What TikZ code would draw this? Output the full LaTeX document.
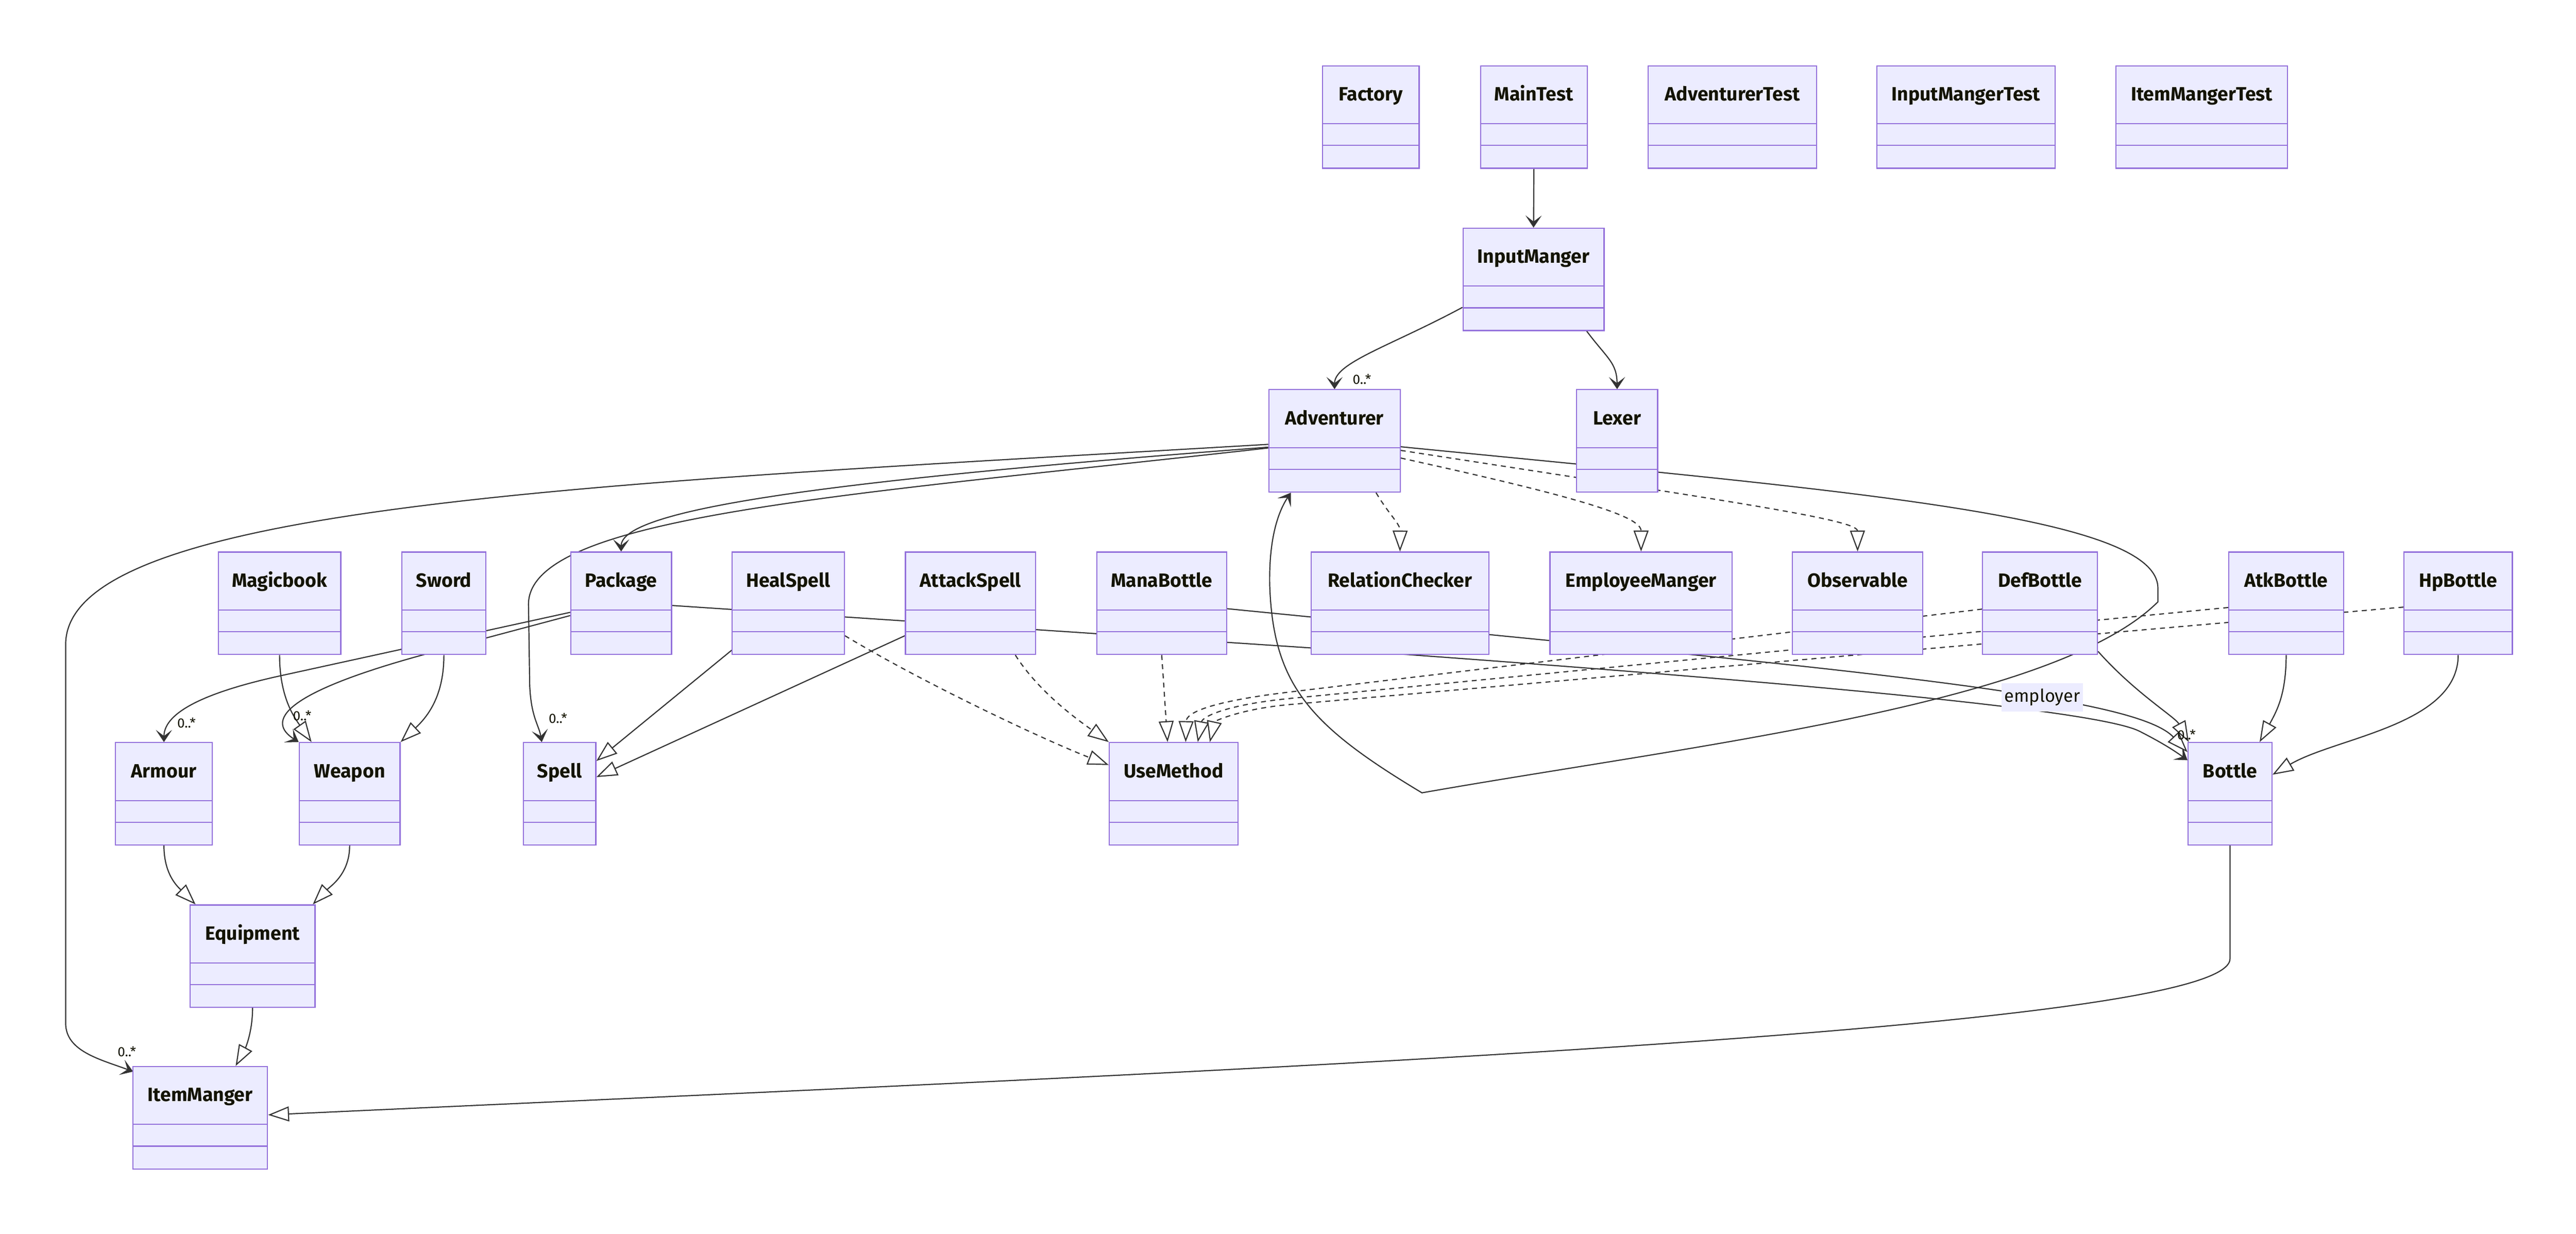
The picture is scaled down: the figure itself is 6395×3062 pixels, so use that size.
\documentclass[tikz,border=0pt]{standalone}
\usepackage{fontspec}
\setmainfont{Fira Sans}
\usepackage{xcolor}
\usetikzlibrary{arrows.meta, calc, positioning}

\definecolor{boxfill}{HTML}{ECECFF}
\definecolor{boxline}{HTML}{9370DB}
\definecolor{edgeline}{HTML}{333333}
\definecolor{labeltext}{HTML}{131300}

\pgfdeclarelayer{paper}
\pgfdeclarelayer{edges}
\pgfsetlayers{paper,edges,main}

\tikzset{
  classbox/.style={draw=boxline, fill=boxfill, line width=0.8pt, inner sep=0pt,
    minimum height=2.54cm, anchor=north},
  classname/.style={font=\fontsize{13.6}{16}\selectfont\bfseries, text=labeltext,
    anchor=base, inner sep=0pt},
  card/.style={font=\fontsize{9.5}{11}\selectfont, text=labeltext, inner sep=0pt},
  edgelabel/.style={fill=boxfill, font=\fontsize{12.5}{15}\selectfont, text=labeltext,
    minimum width=2.01cm, minimum height=0.71cm, inner sep=0pt},
  edge/.style={draw=edgeline, line width=0.8pt},
  assoc/.style={edge, -{Stealth[length=0.3cm, width=0.4cm, inset=0.15cm]}},
  inherit/.style={edge, -{Triangle[length=0.52cm, width=0.37cm, fill=white]}},
  realize/.style={inherit, dash pattern=on 3.5pt off 3pt},
}

% name, centre x, top y, width (cm), title
\newcommand{\umlclass}[5]{%
  \node[classbox, minimum width=#4cm] (#1) at (#2,#3) {};
  \node[classname] (#1-name) at ([yshift=-0.88cm]#1.north) {#5};
  \draw[boxline, line width=0.8pt] ([yshift=-1.45cm]#1.north west) -- ([yshift=-1.45cm]#1.north east);
  \draw[boxline, line width=0.8pt] ([yshift=-1.99cm]#1.north west) -- ([yshift=-1.99cm]#1.north east);
}

\begin{document}
\begin{tikzpicture}[x=0.01cm, y=-0.01cm]
\begin{pgfonlayer}{paper}
\useasboundingbox[fill=white] (0,0) rectangle (6395,3062);
\end{pgfonlayer}

% tests
\umlclass{factory}{3403}{162}{2.40}{Factory}
\umlclass{maintest}{3808}{162}{2.64}{MainTest}
\umlclass{advtest}{4301}{162}{4.18}{AdventurerTest}
\umlclass{inputtest}{4880.5}{162}{4.43}{InputMangerTest}
\umlclass{itemtest}{5466}{162}{4.26}{ItemMangerTest}

\umlclass{input}{3807}{565}{3.50}{InputManger}
\umlclass{adv}{3313}{966}{3.26}{Adventurer}
\umlclass{lexer}{4014.5}{966}{2.01}{Lexer}

\umlclass{magic}{694}{1369}{3.04}{Magicbook}
\umlclass{sword}{1102}{1369}{2.08}{Sword}
\umlclass{pack}{1542}{1369}{2.50}{Package}
\umlclass{heal}{1957}{1369}{2.78}{HealSpell}
\umlclass{atk}{2409.5}{1369}{3.23}{AttackSpell}
\umlclass{mana}{2884}{1369}{3.22}{ManaBottle}
\umlclass{relc}{3475.5}{1369}{4.41}{RelationChecker}
\umlclass{empm}{4074}{1369}{4.52}{EmployeeManger}
\umlclass{obs}{4611.5}{1369}{3.23}{Observable}
\umlclass{defb}{5064.5}{1369}{2.85}{DefBottle}
\umlclass{atkb}{5675.5}{1369}{2.85}{AtkBottle}
\umlclass{hpb}{6102.5}{1369}{2.69}{HpBottle}

\umlclass{armour}{407}{1842}{2.40}{Armour}
\umlclass{weapon}{868}{1842}{2.50}{Weapon}
\umlclass{spell}{1389}{1842}{1.80}{Spell}
\umlclass{use}{2913.5}{1842}{3.19}{UseMethod}
\umlclass{bottle}{5536}{1842}{2.08}{Bottle}

\umlclass{equip}{627}{2245}{3.10}{Equipment}
\umlclass{item}{497}{2646}{3.34}{ItemManger}

\begin{pgfonlayer}{edges}
\draw[assoc] (maintest.south) -- (input.north);
\draw[assoc] ($(input.north west)+(0,198)$) .. controls (3450,860) and (3313,900) .. (adv.north);
\draw[assoc] ($(input.south)+(132,0)$) .. controls (3990,890) and (4014,900) .. (lexer.north);

% Adventurer, left side
\draw[assoc] ($(adv.north west)+(0,137)$) .. controls (1500,1200) and (163,1250) .. (163,1600)
  -- (163,2540) .. controls (163,2610) and (250,2630) .. ($(item.north west)+(2,14)$);
\draw[assoc] ($(adv.north west)+(0,144)$) .. controls (2100,1190) and (1542,1260) .. (pack.north);
\draw[assoc] ($(adv.north west)+(0,146)$) .. controls (2100,1230) and (1312,1280) .. (1312,1500)
  -- (1315,1700) .. controls (1318,1780) and (1338,1800) .. ($(spell.north)+(-44,0)$);

% Adventurer, right side
\draw[realize] ($(adv.south)+(103,0)$) .. controls (3450,1280) and (3476,1300) .. (relc.north);
\draw[realize] ($(adv.north east)+(0,171)$) .. controls (3900,1230) and (4074,1280) .. (empm.north);
\draw[realize] ($(adv.north east)+(0,152)$) .. controls (4300,1245) and (4611,1290) .. (obs.north);
\draw[assoc] ($(adv.north east)+(0,143)$) .. controls (4600,1220) and (5357,1280) .. (5357,1460)
  -- (5357,1494) .. controls (5100,1750) and (4200,1850) .. (3530,1968)
  .. controls (3250,1800) and (3160,1700) .. (3152,1450)
  .. controls (3150,1320) and (3180,1260) .. ($(adv.south west)+(56,0)$);

% equipment
\draw[assoc] ($(pack.north west)+(0,151)$) -- (694,1678) .. controls (540,1712) and (407,1760) .. (armour.north);
\draw[assoc] ($(pack.north west)+(0,159)$) -- (1063,1622) .. controls (700,1720) and (660,1790) .. (weapon.north west);
\draw[inherit] (magic.south) .. controls (694,1730) and (730,1780) .. ($(weapon.north west)+(32,0)$);
\draw[inherit] (sword.south) .. controls (1102,1730) and (1060,1780) .. (weapon.north east);
\draw[inherit] (armour.south) .. controls (407,2170) and (440,2200) .. ($(equip.north west)+(15,0)$);
\draw[inherit] (weapon.south) .. controls (868,2170) and (820,2200) .. ($(equip.north east)+(-7,0)$);
\draw[inherit] (equip.south) .. controls (627,2560) and (610,2600) .. ($(item.north)+(88,0)$);

% spells
\draw[inherit] ($(heal.south west)+(0,-12)$) -- ($(spell.north east)+(0,47)$);
\draw[inherit] ($(atk.north west)+(0,209)$) -- ($(spell.north east)+(0,87)$);
\draw[realize] ($(heal.north east)+(0,209)$) .. controls (2300,1700) and (2600,1840) .. ($(use.north west)+(0,57)$);
\draw[realize] ($(atk.south)+(111,0)$) .. controls (2580,1720) and (2680,1790) .. (use.north west);
\draw[realize] (mana.south) -- ($(use.north)+(-15,0)$);
\draw[realize] ($(defb.north west)+(0,143)$) -- (3200,1718) .. controls (3000,1742) and (2945,1770) .. ($(use.north)+(30,0)$);
\draw[realize] ($(atkb.north west)+(0,139)$) -- (3200,1734) .. controls (3040,1750) and (2985,1780) .. ($(use.north)+(60,0)$);
\draw[realize] ($(hpb.north west)+(0,138)$) -- (3200,1749) .. controls (3080,1760) and (3015,1790) .. ($(use.north)+(90,0)$);

% bottles
\draw[assoc] ($(pack.north east)+(0,134)$) -- (3400,1618) .. controls (4400,1690) and (5200,1760) .. (5311,1815)
  .. controls (5370,1845) and (5400,1865) .. ($(bottle.north west)+(0,45)$);
\draw[inherit] ($(mana.north east)+(0,142)$) -- (4150,1620) .. controls (5000,1705) and (5330,1760) .. ($(bottle.north west)+(0,25)$);
\draw[inherit] ($(defb.south east)+(0,-9)$) .. controls (5300,1720) and (5400,1780) .. ($(bottle.north west)+(3,0)$);
\draw[inherit] (atkb.south) .. controls (5675,1720) and (5655,1760) .. ($(bottle.north east)+(-32,0)$);
\draw[inherit] (hpb.south) .. controls (6102,1800) and (5800,1830) .. ($(bottle.north east)+(0,81)$);
\draw[inherit] (bottle.south) -- (5536,2380) .. controls (5536,2560) and (3000,2660) .. ($(item.east)+(0,-7)$);
\end{pgfonlayer}

\foreach \cname/\cx/\cy in {adv/3381/941, spell/1385/1783, armour/463/1795, weapon/750/1777, bottle/5428/1824, item/315/2610}{
    \node[card] (card-\cname) at (\cx,\cy) {0..*};
}
\node[edgelabel] (employer) at (5070,1731) {employer};

\end{tikzpicture}
\end{document}
